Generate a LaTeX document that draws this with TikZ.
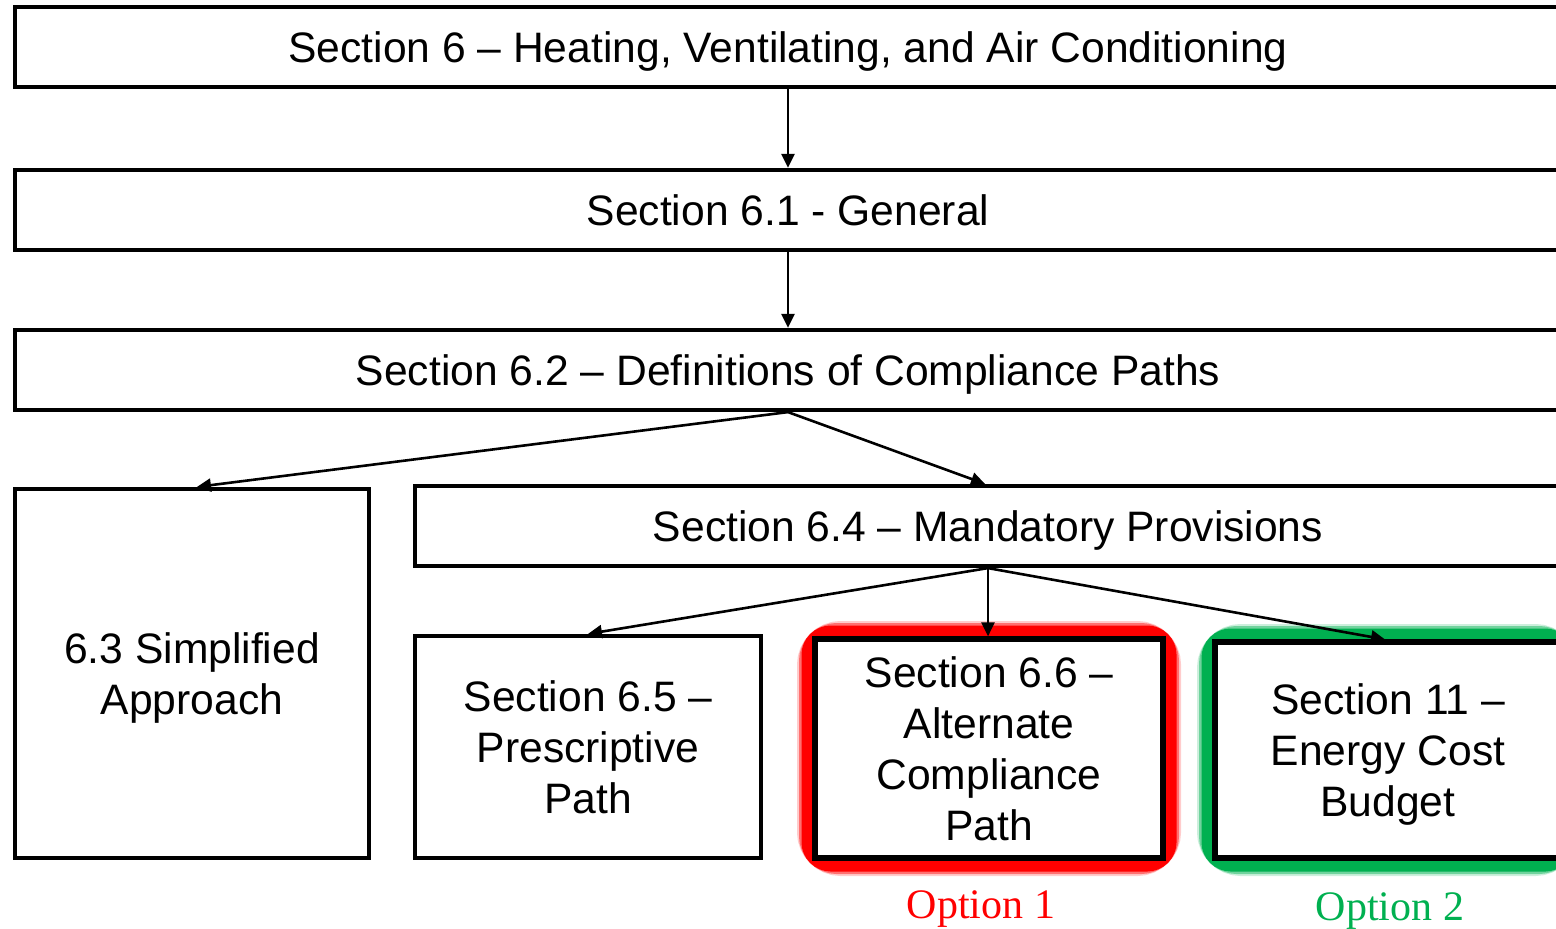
\documentclass[tikz,border=0pt]{standalone}
\usepackage{fontspec}
\setmainfont{Liberation Sans}
\newfontfamily\optfont{Liberation Serif}
\usetikzlibrary{arrows.meta}
\definecolor{optred}{RGB}{255,0,0}
\definecolor{optgreen}{RGB}{0,176,80}
\tikzset{
  box/.style={draw=black, line width=2.1pt, fill=white, rectangle, inner sep=0pt,
    text depth=0pt, align=center, font=\fontsize{21.3}{25.5}\selectfont},
  link/.style={line width=1.3pt, -{Triangle[length=7pt,width=6.5pt]}},
  optlabel/.style={font=\optfont\fontsize{21}{24}\selectfont, inner sep=0pt, anchor=base},
}
\newcommand\glowframe[3]{% colour, lower-left, upper-right
  \draw[#1, line width=18pt, opacity=0.2, rounded corners=13pt] #2 rectangle #3;
  \draw[#1, line width=16pt, opacity=0.45, rounded corners=11pt] #2 rectangle #3;
  \draw[#1, line width=13.5pt, rounded corners=8pt] #2 rectangle #3;
}
\begin{document}
\begin{tikzpicture}[x=0.5pt, y=-0.5pt]
\useasboundingbox (0,0) rectangle (1556,929);
\clip (0,0) rectangle (1556,929);

% coloured halos around the two options
\glowframe{optred}{(815,639)}{(1163,858)}
\glowframe{optgreen}{(1215,642)}{(1561,858)}

% section boxes
\node[box, minimum width=773pt, minimum height=40pt] (s6) at (788,47)
  {Section 6 -- Heating, Ventilating, and Air Conditioning};
\node[box, minimum width=773pt, minimum height=40pt] (s61) at (788,210)
  {Section 6.1 - General};
\node[box, minimum width=773pt, minimum height=40pt] (s62) at (788,370)
  {Section 6.2 -- Definitions of Compliance Paths};
\node[box, minimum width=177pt, minimum height=184.5pt] (s63) at (192,673.5)
  {6.3 Simplified\\Approach};
\node[box, minimum width=573pt, minimum height=40pt] (s64) at (988,526)
  {Section 6.4 -- Mandatory Provisions};
\node[box, minimum width=173pt, minimum height=111pt] (s65) at (588,747)
  {Section 6.5 --\\Prescriptive\\Path};
\node[box, line width=2.6pt, minimum width=174pt, minimum height=109.5pt] (s66) at (989,748.5)
  {Section 6.6 --\\Alternate\\Compliance\\Path};
\node[box, line width=2.6pt, minimum width=173pt, minimum height=108pt] (s11) at (1388,750)
  {Section 11 --\\Energy Cost\\Budget};

% option captions
\node[optlabel, text=optred] (opt1) at (981,918) {Option 1};
\node[optlabel, text=optgreen] (opt2) at (1390,920) {Option 2};

% connectors
\draw[link] (s6.south) -- (s61.north);
\draw[link] (s61.south) -- (s62.north);
\draw[link] (s62.south) -- ([xshift=2.5pt]s63.north);
\draw[link] (s62.south) -- ([xshift=-1.5pt]s64.north);
\draw[link] (s64.south) -- (s65.north);
\draw[link] (s64.south) -- ([xshift=-0.5pt]s66.north);
\draw[link] (s64.south) -- ([xshift=-1.5pt]s11.north);
\end{tikzpicture}
\end{document}
